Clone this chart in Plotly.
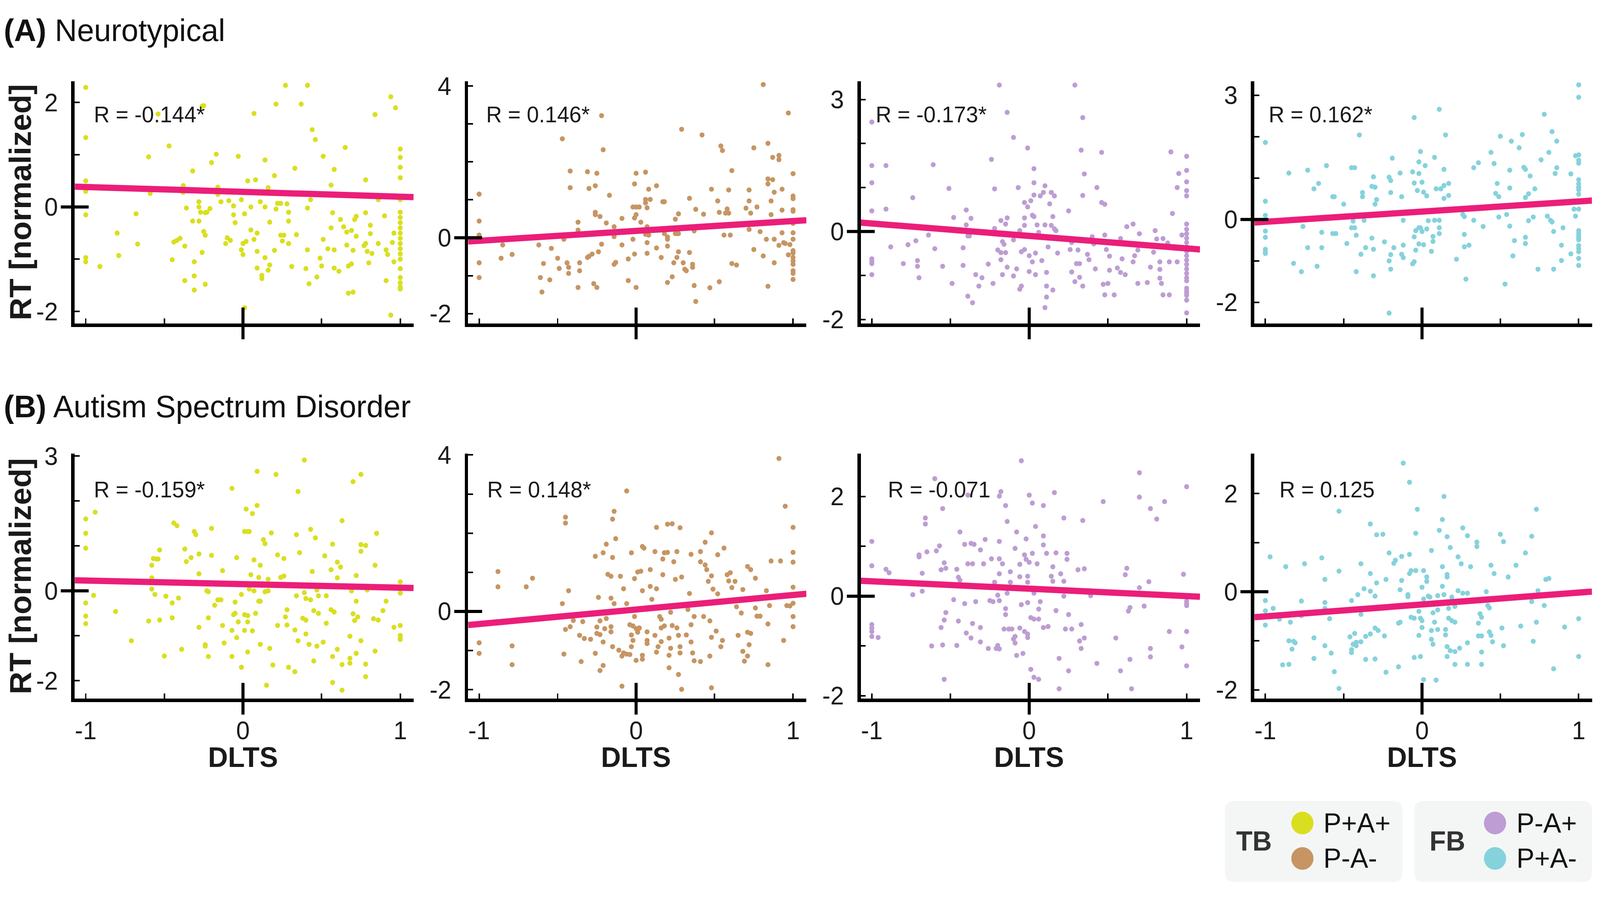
import plotly.graph_objects as go

# condition order in each row: TB P+A+, TB P-A-, FB P-A+, FB P+A-
conditions = ["P+A+", "P-A-", "P-A+", "P+A-"]
cond_colors = ["#d9df1f", "#c69563", "#bd9dd3", "#85d2dc"]
fit_color = "#eb1e79"
groups = ["Neurotypical", "Autism Spectrum Disorder"]

r_labels = ["R = -0.144*", "R = 0.146*", "R = -0.173*", "R = 0.162*",
            "R = -0.159*", "R = 0.148*", "R = -0.071", "R = 0.125"]
fit_slope = [-0.093, 0.26, -0.283, 0.246, -0.079, 0.371, -0.149, 0.242]
fit_intercept = [0.29, 0.18, -0.10, 0.19, 0.15, 0.05, 0.15, -0.26]

# (DLTS, RT) pairs
nt_ppap = [(-1.0, 2.29), (-1.0, 1.33), (-1.0, 0.50), (-1.0, 0.38), (-1.0, 0.30), (-1.0, -0.15), (-1.0, -0.97), (-1.0, -1.05),
    (-0.91, -1.14), (-0.80, -0.50), (-0.79, -0.93), (-0.68, -0.13), (-0.67, -0.71), (-0.60, 0.96), (-0.59, 0.26), (-0.54, 1.78),
    (-0.47, 1.17), (-0.45, -1.01), (-0.44, -0.67), (-0.42, -0.64), (-0.40, -0.60), (-0.38, 0.41), (-0.38, 0.28), (-0.37, -0.75),
    (-0.37, -1.41), (-0.36, -0.02), (-0.32, 0.69), (-0.32, -0.27), (-0.28, -0.27), (-0.31, -1.59), (-0.31, -1.05), (-0.31, -1.32),
    (-0.28, 0.10), (-0.28, 0.0), (-0.27, -0.10), (-0.26, 1.93), (-0.25, 1.94), (-0.26, -0.87), (-0.25, -0.47), (-0.24, -0.54),
    (-0.24, -0.11), (-0.23, -0.10), (-0.21, -0.03), (-0.24, -1.48), (-0.20, 0.85), (-0.17, 1.01), (-0.16, 0.38), (-0.16, 0.24),
    (-0.14, 0.10), (-0.11, -0.70), (-0.10, -0.59), (-0.09, 0.12), (-0.08, -0.64), (-0.06, 0.02), (-0.06, -0.15), (-0.05, -0.30),
    (-0.03, 0.97), (-0.01, 0.14), (0.0, -0.70), (-0.01, -0.82), (0.0, -0.91), (0.01, -1.93), (0.01, -0.13), (0.02, -0.66),
    (0.03, 0.50), (0.05, -0.44), (0.05, 0.0), (0.07, 1.79), (0.07, -0.62), (0.08, 0.52), (0.09, -0.85), (0.09, -0.50),
    (0.09, -1.17), (0.11, 0.10), (0.12, -1.37), (0.12, -1.31), (0.14, 0.90), (0.14, 0.0), (0.14, -0.97), (0.16, -1.21),
    (0.16, 0.37), (0.17, -1.11), (0.17, -0.29), (0.20, 0.60), (0.20, -0.83), (0.21, -0.04), (0.21, 1.97), (0.22, 0.07),
    (0.24, 0.07), (0.24, -0.54), (0.25, -0.65), (0.26, -0.54), (0.27, 2.33), (0.28, 0.06), (0.29, -0.10), (0.29, -0.27),
    (0.29, -0.70), (0.33, 0.74), (0.31, -1.14), (0.34, -0.53), (0.37, 1.97), (0.41, 2.33), (0.40, -1.18), (0.41, -0.02),
    (0.41, -0.82), (0.42, -1.47), (0.43, 0.14), (0.44, 1.48), (0.46, 1.29), (0.47, -1.34), (0.49, -0.98), (0.50, -1.13),
    (0.51, 0.97), (0.51, -0.62), (0.54, -0.80), (0.56, 0.42), (0.56, -0.40), (0.57, -0.11), (0.58, -0.82), (0.58, 0.72),
    (0.58, -1.17), (0.61, -1.23), (0.62, -0.24), (0.64, -0.38), (0.65, 1.14), (0.66, -0.48), (0.66, -0.73), (0.67, -1.13),
    (0.67, -1.65), (0.69, -1.09), (0.69, -0.45), (0.70, -1.63), (0.70, -0.83), (0.71, -0.24), (0.72, -0.56), (0.72, -0.18),
    (0.77, -0.74), (0.78, -0.11), (0.78, -0.70), (0.78, 0.52), (0.79, -0.85), (0.80, -1.07), (0.81, -0.35), (0.81, -0.51),
    (0.82, -0.89), (0.84, 1.77), (0.86, -0.70), (0.86, 0.14), (0.90, -0.17), (0.91, -1.41), (0.91, -0.82), (0.92, -0.91),
    (0.94, 2.11), (0.94, -2.07), (0.95, -0.68), (0.96, -0.50), (0.96, -1.05), (0.97, 1.90),
    (1.0, 1.11), (1.0, 0.95), (1.0, 0.76), (1.0, 0.56), (1.0, 0.14), (1.0, -0.10), (1.0, -0.20), (1.0, -0.30), (1.0, -0.40),
    (1.0, -0.50), (1.0, -0.60), (1.0, -0.70), (1.0, -0.80), (1.0, -0.90), (1.0, -1.00), (1.0, -1.18), (1.0, -1.35),
    (1.0, -1.45), (1.0, -1.53), (1.0, -1.57)]

nt_pmam = [(-1.0, 1.15), (-1.0, 0.44), (-1.0, 0.07), (-1.0, -0.66), (-1.0, -1.05), (-0.85, -0.19), (-0.86, -0.54), (-0.79, -0.44),
    (-0.62, -0.19), (-0.59, -0.68), (-0.61, -1.05), (-0.60, -1.43), (-0.55, -1.11), (-0.54, -0.28), (-0.50, -0.54), (-0.49, -0.81),
    (-0.47, 2.61), (-0.46, -0.04), (-0.44, -0.66), (-0.43, -0.78), (-0.43, -0.94), (-0.42, 1.76), (-0.42, 1.32), (-0.37, 0.41),
    (-0.37, 0.20), (-0.36, -0.66), (-0.36, -0.87), (-0.37, -1.31), (-0.31, 1.74), (-0.30, 1.30), (-0.26, 1.37), (-0.25, 1.70),
    (-0.22, 3.22), (-0.21, 2.32), (-0.26, 0.67), (-0.26, 0.61), (-0.23, 0.56), (-0.19, 0.39), (-0.14, 0.29), (-0.14, 0.03),
    (-0.22, -0.17), (-0.24, -0.37), (-0.28, -0.43), (-0.30, -0.49), (-0.31, -0.52), (-0.27, -1.21), (-0.25, -1.31), (-0.17, 1.12),
    (-0.09, 0.51), (-0.09, -0.19), (-0.14, -0.70), (-0.13, -0.65), (-0.05, -0.56), (-0.05, -1.13), (0.0, -1.31), (-0.02, -0.04),
    (-0.01, -0.43), (-0.01, 1.42), (0.0, 1.70), (0.06, 1.73), (0.08, 1.28), (-0.01, 0.52), (0.0, 0.61), (-0.02, 0.81),
    (0.0, 0.81), (0.02, 0.81), (0.07, 0.79), (0.06, 0.92), (0.06, 1.01), (0.09, 1.01), (0.03, 0.41), (0.07, 0.29),
    (0.06, 0.09), (0.08, 0.07), (0.07, -0.13), (0.07, -0.41), (0.13, 1.37), (0.17, 0.95), (0.18, 0.95), (0.13, -0.27),
    (0.16, -0.52), (0.18, 0.11), (0.20, 0.02), (0.20, -0.04), (0.20, -0.22), (0.25, 0.49), (0.27, 0.63), (0.25, 0.11),
    (0.26, 0.11), (0.27, 0.11), (0.27, -0.37), (0.26, -0.52), (0.24, -0.66), (0.23, -1.03), (0.20, -1.18), (0.29, 2.86),
    (0.30, -0.66), (0.31, -0.83), (0.32, -0.87), (0.34, 1.04), (0.34, -0.39), (0.36, -0.70), (0.36, -0.78), (0.37, 0.18),
    (0.38, 0.75), (0.42, 2.71), (0.43, 0.62), (0.37, -1.26), (0.38, -1.68), (0.47, -1.32), (0.48, 1.28), (0.52, 0.97),
    (0.53, 0.67), (0.53, -1.16), (0.54, 2.42), (0.55, 2.30), (0.56, 0.07), (0.59, 1.26), (0.59, 0.65), (0.57, 0.65),
    (0.58, 0.76), (0.60, 0.07), (0.61, 1.77), (0.61, -0.68), (0.64, -0.72), (0.70, 0.78), (0.72, 1.26), (0.72, 0.97),
    (0.73, 0.65), (0.72, 0.22), (0.75, 2.37), (0.75, -0.31), (0.77, 0.81), (0.79, 0.16), (0.81, -0.48), (0.81, 4.04),
    (0.83, -0.04), (0.84, 1.55), (0.84, 1.42), (0.84, 2.49), (0.84, -1.28), (0.86, 0.61), (0.87, 1.53), (0.86, 0.97),
    (0.87, 2.12), (0.88, 1.20), (0.88, -0.04), (0.88, -0.66), (0.91, 2.17), (0.91, 2.06), (0.91, -0.20), (0.93, 0.73),
    (0.93, 1.28), (0.93, 0.13), (0.94, -0.13), (0.95, -0.15), (0.97, -0.45), (0.97, 3.29), (0.98, -0.18),
    (1.0, 1.69), (1.0, 1.10), (1.0, 1.03), (1.0, 0.74), (1.0, 0.70), (1.0, 0.38), (1.0, 0.13), (1.0, -0.04), (1.0, -0.34),
    (1.0, -0.40), (1.0, -0.52), (1.0, -0.61), (1.0, -0.70), (1.0, -0.87), (1.0, -0.94), (1.0, -1.10)]

nt_pmap = [(-1.0, 2.49), (-1.0, 1.50), (-1.0, 1.11), (-1.0, 0.47), (-1.0, -0.62), (-1.0, -0.68), (-1.0, -0.73), (-1.0, -0.98),
    (-0.91, 1.50), (-0.91, 0.51), (-0.88, -0.35), (-0.80, -0.73), (-0.77, -0.30), (-0.74, 0.77), (-0.72, -0.21), (-0.71, -0.66),
    (-0.71, -0.79), (-0.70, -1.05), (-0.64, -0.08), (-0.61, 1.52), (-0.60, -0.39), (-0.55, -0.79), (-0.51, 0.98), (-0.49, -1.18),
    (-0.48, 0.32), (-0.42, -0.37), (-0.42, -0.77), (-0.40, 0.49), (-0.40, 0.15), (-0.39, -0.10), (-0.38, -0.10), (-0.37, 0.30),
    (-0.39, -1.47), (-0.36, -1.62), (-0.34, -0.98), (-0.30, -1.05), (-0.32, -1.24), (-0.26, -0.74), (-0.24, 1.64), (-0.23, -1.18),
    (-0.22, 0.97), (-0.22, 0.07), (-0.19, 3.33), (-0.20, -0.42), (-0.18, -0.48), (-0.18, 0.25), (-0.17, -0.23), (-0.16, -0.29),
    (-0.15, 0.17), (-0.14, 0.31), (-0.15, -0.48), (-0.18, -0.64), (-0.17, -0.98), (-0.14, 2.71), (-0.14, -0.81), (-0.10, 2.14),
    (-0.10, -0.19), (-0.10, -1.01), (-0.08, -0.85), (-0.07, 1.00), (-0.06, 0.02), (-0.06, -1.31), (-0.05, -1.24), (-0.05, -0.46),
    (-0.03, -0.41), (-0.03, 0.66), (-0.01, 1.90), (-0.01, 0.56), (0.0, -0.55), (0.0, -0.91), (0.01, 0.70), (-0.03, 0.31),
    (-0.03, 0.14), (0.02, -0.69), (0.02, 0.37), (0.03, 0.34), (0.03, 1.11), (0.03, 1.43), (0.03, 0.83), (0.04, -0.98),
    (0.04, -0.49), (0.05, 0.15), (0.07, 0.81), (0.06, -0.02), (0.08, -0.66), (0.09, 0.89), (0.10, 1.04), (0.10, -1.73),
    (0.11, -0.93), (0.11, -1.24), (0.11, -1.49), (0.10, 0.15), (0.12, -0.35), (0.13, 0.63), (0.14, 0.89), (0.15, 0.34),
    (0.14, 0.14), (0.15, -1.33), (0.16, 0.06), (0.16, 0.81), (0.17, 0.02), (0.18, -0.49), (0.25, 0.47), (0.26, -0.41),
    (0.27, -0.25), (0.27, -0.92), (0.29, -1.14), (0.29, 3.33), (0.30, -0.73), (0.31, -0.42), (0.32, -1.04), (0.32, -0.73),
    (0.33, 1.85), (0.34, 0.82), (0.34, -1.24), (0.34, 2.59), (0.35, 1.31), (0.37, -0.52), (0.38, -0.64), (0.40, -0.12),
    (0.41, -0.28), (0.42, -0.85), (0.43, 1.00), (0.46, 1.80), (0.46, 0.66), (0.48, 0.62), (0.48, -0.08), (0.47, -1.20),
    (0.50, -1.18), (0.48, -1.44), (0.54, -1.44), (0.49, -0.41), (0.51, -0.56), (0.51, -0.88), (0.56, -0.83), (0.58, -0.16),
    (0.58, -0.93), (0.59, -0.62), (0.61, -0.98), (0.62, 0.11), (0.66, 0.17), (0.66, -0.69), (0.67, -0.55), (0.69, -0.42),
    (0.69, -1.18), (0.70, -0.05), (0.75, -1.16), (0.77, -0.81), (0.79, -0.47), (0.80, 0.02), (0.81, -0.17), (0.83, -1.06),
    (0.83, -0.69), (0.83, -0.86), (0.84, -1.18), (0.85, -0.16), (0.85, -1.44), (0.88, -0.26), (0.89, -1.44), (0.89, -0.69),
    (0.90, 1.81), (0.91, 0.41), (0.94, 1.00), (0.94, -0.69), (0.95, 1.32), (0.97, -0.08),
    (1.0, 1.71), (1.0, 1.39), (1.0, 1.13), (1.0, 0.93), (1.0, 0.81), (1.0, 0.17), (1.0, 0.05), (1.0, -0.05), (1.0, -0.15),
    (1.0, -0.25), (1.0, -0.35), (1.0, -0.45), (1.0, -0.55), (1.0, -0.65), (1.0, -0.75), (1.0, -0.85), (1.0, -0.95),
    (1.0, -1.05), (1.0, -1.12), (1.0, -1.29), (1.0, -1.35), (1.0, -1.40), (1.0, -1.45), (1.0, -1.56), (1.0, -1.85)]

nt_ppam = [(-1.0, 1.86), (-1.0, 0.44), (-1.0, 0.10), (-1.0, -0.28), (-1.0, -0.43), (-1.0, -0.72), (-1.0, -0.78), (-1.0, -0.82),
    (-0.85, 1.12), (-0.82, -1.06), (-0.77, -1.26), (-0.76, -0.17), (-0.73, 1.19), (-0.73, -0.68), (-0.69, 0.74), (-0.67, -1.13),
    (-0.66, 0.87), (-0.64, -0.68), (-0.64, -0.31), (-0.61, 1.30), (-0.57, 0.55), (-0.56, 0.55), (-0.57, -0.34), (-0.55, -0.34),
    (-0.50, 0.37), (-0.48, -0.58), (-0.45, 1.25), (-0.43, 1.25), (-0.45, -0.20), (-0.43, -0.20), (-0.44, -0.04), (-0.42, -0.38),
    (-0.42, -1.26), (-0.40, 2.04), (-0.39, -0.84), (-0.38, 0.65), (-0.38, 0.55), (-0.37, -0.02), (-0.36, -0.68), (-0.32, 0.80),
    (-0.30, 0.78), (-0.31, 1.03), (-0.32, -0.45), (-0.31, -0.72), (-0.31, -1.36), (-0.30, 0.37), (-0.29, 0.48), (-0.24, -0.54),
    (-0.21, 1.02), (-0.20, 0.94), (-0.20, 0.65), (-0.19, 1.48), (-0.21, -1.00), (-0.20, -0.85), (-0.20, -1.20), (-0.21, -2.26),
    (-0.18, -0.68), (-0.14, 1.12), (-0.13, 0.55), (-0.12, -0.02), (-0.12, -0.62), (-0.13, -0.84), (-0.12, -0.92), (-0.06, -1.07),
    (-0.05, -1.02), (-0.06, 1.15), (-0.05, 0.88), (-0.05, -0.42), (-0.04, -0.27), (-0.04, -0.74), (-0.03, 0.70), (-0.02, 1.39),
    (-0.02, 1.11), (-0.01, 1.64), (0.0, 0.90), (-0.02, -0.20), (-0.01, -0.20), (0.01, 0.66), (0.02, 1.30), (-0.02, -0.59),
    (0.01, -0.61), (0.0, -0.29), (0.03, -0.23), (0.03, 0.57), (0.04, -0.03), (-0.05, 2.46), (0.06, -0.77), (0.07, -0.53),
    (0.07, -0.41), (0.08, 1.50), (0.09, 0.74), (0.08, -0.02), (0.11, -0.02), (0.11, 2.66), (0.11, -0.20), (0.11, -0.34),
    (0.12, 0.74), (0.14, 1.21), (0.14, 0.51), (0.14, 0.82), (0.15, 2.04), (0.17, 0.87), (0.17, 0.58), (0.22, -0.96),
    (0.26, 0.12), (0.27, 0.07), (0.27, -0.36), (0.27, -0.66), (0.30, -0.62), (0.28, -1.44), (0.33, -0.02), (0.33, 1.25),
    (0.36, 1.37), (0.39, -0.17), (0.44, 1.62), (0.46, 1.35), (0.48, 0.87), (0.47, 0.63), (0.49, 0.55), (0.49, 0.06),
    (0.50, 2.01), (0.53, -1.56), (0.54, 0.12), (0.56, 1.19), (0.56, 0.76), (0.56, -0.16), (0.57, 1.89), (0.58, -0.88),
    (0.59, -0.51), (0.62, 1.73), (0.64, 2.05), (0.65, 1.26), (0.66, 1.21), (0.69, 1.05), (0.66, 0.53), (0.68, 0.62),
    (0.66, -0.43), (0.66, -0.58), (0.68, -0.03), (0.71, 0.06), (0.72, 0.74), (0.74, -1.20), (0.76, 1.44), (0.78, 2.54),
    (0.80, 0.08), (0.81, 1.62), (0.82, -0.02), (0.83, -0.06), (0.83, 2.12), (0.84, -0.29), (0.84, -1.20), (0.85, 1.11),
    (0.86, 1.89), (0.86, 1.25), (0.89, -0.62), (0.89, -0.99), (0.90, -0.20), (0.95, -0.83), (0.95, 1.10), (0.97, 0.25),
    (0.98, 0.08), (0.98, 1.54),
    (1.0, 3.25), (1.0, 2.95), (1.0, 1.56), (1.0, 1.43), (1.0, 1.36), (1.0, 0.96), (1.0, 0.86), (1.0, 0.78), (1.0, 0.72),
    (1.0, 0.61), (1.0, 0.25), (1.0, -0.27), (1.0, -0.33), (1.0, -0.39), (1.0, -0.45), (1.0, -0.49), (1.0, -0.63),
    (1.0, -0.70), (1.0, -0.78), (1.0, -0.94), (1.0, -1.11)]

asd_ppap = [(-1.0, 1.60), (-1.0, 1.28), (-1.0, 0.95), (-1.0, -0.27), (-1.0, -0.56), (-1.0, -0.73), (-0.94, 1.75), (-0.95, -0.10),
    (-0.81, -0.46), (-0.71, -1.11), (-0.60, -0.67), (-0.58, 0.57), (-0.58, 0.29), (-0.58, 0.04), (-0.57, 0.72), (-0.55, 0.71),
    (-0.54, 0.71), (-0.56, -0.08), (-0.53, 0.91), (-0.53, -0.65), (-0.50, -1.45), (-0.49, -0.12), (-0.45, -0.27), (-0.45, -0.60),
    (-0.44, 1.51), (-0.42, 1.45), (-0.41, -0.16), (-0.39, -1.30), (-0.37, 0.93), (-0.36, 0.65), (-0.33, 0.74), (-0.31, 1.32),
    (-0.30, 1.25), (-0.28, 0.82), (-0.28, 0.38), (-0.28, -0.81), (-0.24, -1.23), (-0.24, -1.20), (-0.23, 0.0), (-0.22, -0.02),
    (-0.22, -0.60), (-0.22, -1.46), (-0.20, 1.39), (-0.20, 0.79), (-0.18, -0.32), (-0.16, -0.20), (-0.14, -0.20), (-0.13, 0.45),
    (-0.13, -0.77), (-0.12, -1.16), (-0.07, 2.28), (-0.07, -1.46), (-0.07, -0.88), (-0.06, -0.53), (-0.05, -0.25), (-0.04, 0.74),
    (-0.04, -1.04), (-0.05, -0.50), (-0.03, -0.69), (-0.01, -0.08), (-0.01, -1.70), (0.01, 1.32), (0.03, 1.32), (0.04, 1.32),
    (0.01, -0.53), (0.01, -0.88), (0.02, 1.82), (0.03, -0.55), (0.03, -0.69), (0.03, -1.36), (0.04, 0.04), (0.05, 0.36),
    (0.06, 1.72), (0.06, -0.89), (0.07, 0.69), (0.07, 0.0), (0.08, -0.50), (0.09, 1.90), (0.09, 2.66), (0.10, 0.30),
    (0.10, -0.23), (0.11, -0.23), (0.11, 0.57), (0.11, -1.19), (0.13, 1.14), (0.14, 1.05), (0.14, -0.02), (0.15, -2.10),
    (0.16, 0.26), (0.16, 0.0), (0.17, -1.28), (0.18, 1.29), (0.19, -1.65), (0.21, 2.59), (0.22, -0.77), (0.22, 0.80),
    (0.24, 0.30), (0.26, 0.72), (0.26, 0.33), (0.27, -0.58), (0.28, -0.76), (0.28, -0.42), (0.29, -1.70), (0.33, -1.80),
    (0.33, -0.87), (0.34, 1.25), (0.34, -0.11), (0.35, -1.11), (0.35, 2.21), (0.36, 0.85), (0.38, -0.61), (0.39, 2.91),
    (0.39, -0.04), (0.40, -0.65), (0.40, -0.17), (0.40, -0.96), (0.42, -1.19), (0.43, 1.37), (0.43, -0.20), (0.44, 0.43),
    (0.45, -0.44), (0.45, -1.56), (0.46, 1.18), (0.47, -1.23), (0.47, 0.02), (0.48, -0.50), (0.48, -0.11), (0.51, -1.14),
    (0.52, 0.78), (0.53, -0.11), (0.53, -0.72), (0.56, -0.42), (0.57, 1.04), (0.57, -2.04), (0.57, -1.46), (0.58, -0.47),
    (0.56, 0.47), (0.60, 0.64), (0.60, 0.29), (0.60, -1.30), (0.62, 0.53), (0.63, -2.21), (0.63, 1.56), (0.63, -1.64),
    (0.68, -1.61), (0.68, -1.50), (0.68, -1.01), (0.69, 0.0), (0.70, 2.43), (0.70, -0.51), (0.71, -0.66), (0.72, -0.23),
    (0.72, 0.34), (0.72, -1.39), (0.73, -0.58), (0.75, 2.59), (0.75, 1.03), (0.75, 0.88), (0.75, -1.11), (0.78, 1.01),
    (0.78, -1.63), (0.78, -1.91), (0.79, 0.02), (0.83, -0.62), (0.84, -1.34), (0.84, 0.57), (0.85, 1.28), (0.86, -0.65),
    (0.89, -0.44), (0.91, -0.23), (0.96, -0.81),
    (1.0, 0.20), (1.0, 0.04), (1.0, -0.05), (1.0, -0.77), (1.0, -0.99), (1.0, -1.05), (1.0, -1.08)]

asd_pmam = [(-1.0, -0.80), (-1.0, -1.07), (-0.88, 1.02), (-0.88, 0.63), (-0.79, -0.88), (-0.79, -1.36), (-0.70, 0.63), (-0.66, 0.85),
    (-0.47, 0.20), (-0.46, -1.09), (-0.45, 2.41), (-0.45, 2.26), (-0.45, -0.46), (-0.43, 0.53), (-0.42, -0.39), (-0.40, -0.23),
    (-0.36, -0.61), (-0.35, -1.28), (-0.34, -0.26), (-0.33, -0.69), (-0.29, -0.71), (-0.26, -1.07), (-0.26, 1.41), (-0.25, -0.40),
    (-0.25, -0.56), (-0.24, 0.36), (-0.23, -0.24), (-0.23, -0.59), (-0.23, -1.51), (-0.21, 1.50), (-0.21, -1.38), (-0.21, -0.78),
    (-0.20, -0.44), (-0.19, -0.18), (-0.19, 1.72), (-0.18, 0.95), (-0.16, 0.90), (-0.16, 0.34), (-0.16, -0.39), (-0.16, -0.52),
    (-0.15, 2.36), (-0.15, 1.38), (-0.15, -0.90), (-0.14, 2.56), (-0.14, 0.20), (-0.13, 1.86), (-0.11, -0.99), (-0.10, 0.90),
    (-0.09, -1.14), (-0.09, -1.91), (-0.08, -1.06), (-0.08, 0.58), (-0.06, 0.20), (-0.06, -1.09), (-0.06, 3.08), (-0.04, -1.10),
    (-0.04, -0.34), (-0.03, -0.90), (-0.03, -0.60), (-0.03, 1.50), (-0.02, -0.37), (-0.02, -0.74), (-0.01, 0.84), (-0.01, -0.13),
    (0.0, -1.25), (0.0, -0.44), (0.01, -0.53), (0.02, -0.42), (0.02, -0.43), (0.01, 1.01), (0.03, 1.03), (0.04, -1.22),
    (0.04, -1.12), (0.04, 0.53), (0.04, 1.66), (0.05, 1.62), (0.07, -0.52), (0.07, -0.74), (0.07, -0.82), (0.09, 1.07),
    (0.09, 0.64), (0.10, 0.31), (0.12, 1.53), (0.12, -0.61), (0.13, -1.04), (0.13, 0.58), (0.13, 2.15), (0.14, -0.90),
    (0.15, -0.13), (0.16, -0.42), (0.16, -0.20), (0.16, -0.77), (0.17, 1.34), (0.17, 0.94), (0.18, -0.37), (0.18, 1.50),
    (0.20, 2.23), (0.20, 1.51), (0.21, -1.12), (0.21, -0.68), (0.21, -1.44), (0.22, -0.94), (0.22, -0.02), (0.23, 2.24),
    (0.23, -0.36), (0.24, 1.27), (0.25, 0.82), (0.26, -0.42), (0.26, 1.53), (0.27, -0.61), (0.27, -1.61), (0.28, 2.14),
    (0.28, -0.90), (0.28, -1.06), (0.29, -1.99), (0.29, 0.88), (0.32, -0.60), (0.33, 0.05), (0.34, 0.46), (0.35, 1.46),
    (0.35, -0.34), (0.35, -0.78), (0.36, -1.06), (0.37, -0.13), (0.37, -1.26), (0.41, -1.28), (0.41, 1.53), (0.41, 1.27),
    (0.43, -0.13), (0.44, 1.19), (0.45, 1.07), (0.46, 0.77), (0.47, -0.24), (0.48, 0.91), (0.48, 2.01), (0.48, -0.66),
    (0.48, -1.95), (0.47, -1.14), (0.44, 1.77), (0.49, 0.57), (0.51, -0.50), (0.52, 0.45), (0.52, 1.45), (0.54, -0.90),
    (0.55, -0.74), (0.56, 1.62), (0.58, 0.94), (0.59, 0.78), (0.60, 0.99), (0.61, 0.61), (0.63, 0.77), (0.64, 0.12),
    (0.65, -0.61), (0.67, -0.04), (0.68, 0.56), (0.68, -1.02), (0.69, -1.27), (0.71, -1.14), (0.71, -0.53), (0.72, -0.85),
    (0.73, -0.56), (0.71, 1.15), (0.73, 1.07), (0.76, 0.09), (0.76, 0.85), (0.77, -0.12), (0.79, -0.12), (0.83, 0.53),
    (0.84, -0.32), (0.84, -1.36), (0.85, 0.15), (0.86, 1.29), (0.91, 3.91), (0.92, 1.29), (0.94, -0.74), (0.95, 2.69),
    (0.96, 0.15), (0.98, 0.14),
    (1.0, 2.15), (1.0, 1.51), (1.0, 1.26), (1.0, 0.62), (1.0, 0.21), (1.0, -0.13), (1.0, -0.39)]

asd_pmap = [(-1.0, 1.10), (-1.0, 0.61), (-1.0, -0.57), (-1.0, -0.64), (-1.0, -0.71), (-1.0, -0.81), (-0.96, -0.83), (-0.91, 0.54),
    (-0.89, 0.47), (-0.74, 0.03), (-0.70, 0.83), (-0.70, 0.79), (-0.68, 0.46), (-0.68, 0.10), (-0.66, 1.57), (-0.66, 1.45),
    (-0.65, 0.89), (-0.62, -1.0), (-0.60, 2.36), (-0.59, 0.91), (-0.57, 1.01), (-0.56, 0.53), (-0.55, 1.76), (-0.56, -0.63),
    (-0.55, -0.98), (-0.54, -1.67), (-0.54, 0.67), (-0.53, 0.56), (-0.53, -0.33), (-0.54, -0.48), (-0.48, -0.07), (-0.46, -0.99),
    (-0.46, 0.54), (-0.45, 0.38), (-0.45, -0.50), (-0.44, 0.32), (-0.44, 1.29), (-0.41, -0.15), (-0.41, 1.04), (-0.39, 2.03),
    (-0.40, -0.74), (-0.39, 0.65), (-0.37, -0.84), (-0.37, 1.06), (-0.35, 1.04), (-0.36, 0.65), (-0.36, -0.55), (-0.34, -0.11),
    (-0.31, -0.92), (-0.31, 0.93), (-0.31, -0.63), (-0.29, 0.65), (-0.28, 1.14), (-0.26, -1.05), (-0.25, -0.09), (-0.24, 0.75),
    (-0.23, -0.11), (-0.22, 0.28), (-0.21, -1.05), (-0.20, 0.02), (-0.20, -0.99), (-0.19, -1.06), (-0.19, 1.10), (-0.19, 0.45),
    (-0.19, -0.09), (-0.19, 0.75), (-0.18, 2.10), (-0.19, 2.01), (-0.17, 0.65), (-0.15, 1.82), (-0.15, -0.25), (-0.15, -0.37),
    (-0.14, 1.50), (-0.14, 0.06), (-0.12, 0.49), (-0.12, 0.28), (-0.16, -0.66), (-0.13, -0.66), (-0.11, -0.66), (-0.10, -0.86),
    (-0.09, -0.94), (-0.09, -0.81), (-0.08, 1.29), (-0.09, 0.96), (-0.08, -1.19), (-0.06, -0.64), (-0.06, 0.64), (-0.06, 0.39),
    (-0.05, -0.17), (-0.05, 2.72), (-0.04, -1.15), (-0.03, -0.71), (-0.03, 0.83), (-0.02, 0.74), (-0.02, 1.15), (-0.01, -0.76),
    (-0.01, -0.83), (-0.01, 0.40), (-0.01, 0.28), (-0.01, -0.13), (0.0, 0.68), (0.0, 2.03), (0.01, -1.47), (0.01, -0.43),
    (0.02, 1.87), (0.02, 0.86), (0.03, 0.06), (0.03, -1.63), (0.04, 1.40), (0.03, -0.46), (0.06, -0.46), (0.05, 0.65),
    (0.06, -0.26), (0.06, -1.67), (0.07, -0.11), (0.09, 1.82), (0.09, 1.21), (0.09, 1.03), (0.09, -0.63), (0.11, 0.86),
    (0.12, -0.61), (0.14, 0.40), (0.15, 0.59), (0.15, 0.30), (0.16, 2.08), (0.17, 0.87), (0.17, -0.29), (0.19, -1.25),
    (0.19, -1.86), (0.20, 0.45), (0.22, 1.57), (0.22, 0.30), (0.22, 0.0), (0.23, -0.66), (0.24, 0.86), (0.24, 0.74),
    (0.25, -0.37), (0.25, -1.50), (0.27, -0.66), (0.31, 0.53), (0.33, -1.05), (0.32, -0.90), (0.33, -0.57), (0.34, 1.52),
    (0.35, 0.55), (0.35, -0.84), (0.39, 0.01), (0.43, -1.35), (0.47, 1.90), (0.55, -0.84), (0.58, -1.50), (0.61, 0.43),
    (0.62, 0.56), (0.63, -0.30), (0.64, -0.23), (0.64, -1.27), (0.65, -1.86), (0.70, 2.48), (0.70, 1.99), (0.70, 0.17),
    (0.73, -0.20), (0.76, 0.29), (0.77, -1.22), (0.77, -1.05), (0.77, 1.76), (0.81, 1.55), (0.86, 1.90), (0.89, -0.71),
    (0.97, -1.02), (0.98, 0.44),
    (1.0, 2.20), (1.0, -0.10), (1.0, -0.15), (1.0, -0.19), (1.0, -0.71), (1.0, -1.40)]

asd_ppam = [(-1.0, -0.18), (-1.0, -0.39), (-1.0, -0.68), (-0.97, 0.71), (-0.95, -0.34), (-0.91, -0.56), (-0.89, -1.49), (-0.87, 0.51),
    (-0.85, -1.48), (-0.85, -1.00), (-0.84, -0.62), (-0.82, -1.01), (-0.81, -1.04), (-0.83, -1.17), (-0.77, -0.19), (-0.77, -0.49),
    (-0.75, 0.57), (-0.69, -0.94), (-0.69, -1.36), (-0.64, 0.69), (-0.62, -0.22), (-0.62, -0.34), (-0.62, -1.10), (-0.62, 0.25),
    (-0.59, -0.55), (-0.58, -1.25), (-0.56, -1.63), (-0.53, 1.64), (-0.53, 0.42), (-0.53, -1.97), (-0.46, -0.92), (-0.45, -1.18),
    (-0.45, -0.18), (-0.45, -1.24), (-0.44, -1.07), (-0.43, -0.85), (-0.42, -1.10), (-0.42, -1.03), (-0.41, -0.06), (-0.39, -1.02),
    (-0.39, 0.57), (-0.39, -0.46), (-0.37, 0.06), (-0.36, -0.91), (-0.36, -1.38), (-0.33, 1.38), (-0.33, 0.01), (-0.33, 0.37),
    (-0.33, -0.86), (-0.30, -0.74), (-0.30, -0.09), (-0.30, -1.37), (-0.29, 0.18), (-0.29, 1.16), (-0.28, -0.79), (-0.25, 1.17),
    (-0.24, -0.90), (-0.23, 0.25), (-0.23, -1.64), (-0.21, 0.79), (-0.18, 0.58), (-0.17, 0.64), (-0.13, 0.72), (-0.15, -0.64),
    (-0.14, -0.62), (-0.15, -1.53), (-0.14, 0.04), (-0.13, 0.23), (-0.09, -0.06), (-0.09, -0.10), (-0.08, 0.76), (-0.08, 0.37),
    (-0.08, 2.23), (-0.12, 2.62), (-0.07, 0.43), (-0.07, -0.52), (-0.05, -1.34), (-0.05, -0.54), (-0.04, 1.19), (-0.03, 1.68),
    (-0.04, 0.43), (-0.02, -0.89), (-0.02, -0.40), (-0.01, -0.54), (-0.01, -1.32), (0.0, 0.09), (0.0, -0.59), (0.0, -0.73),
    (0.01, -1.79), (0.01, 0.43), (0.01, -0.15), (0.03, 0.30), (0.03, 0.21), (0.04, -0.09), (0.05, -0.11), (0.06, 0.84),
    (0.06, -0.79), (0.06, -0.97), (0.07, -1.07), (0.07, -0.43), (0.08, -0.62), (0.09, -1.80), (0.10, -0.08), (0.10, -0.37),
    (0.10, -0.77), (0.11, 1.25), (0.13, 1.47), (0.13, 0.51), (0.13, 0.11), (0.14, 1.94), (0.14, -0.06), (0.15, -0.77),
    (0.15, -0.88), (0.16, -1.12), (0.16, -1.32), (0.16, 1.12), (0.16, 0.35), (0.16, 0.30), (0.17, -0.34), (0.17, -0.54),
    (0.18, -1.20), (0.18, 0.90), (0.19, -0.11), (0.19, -0.59), (0.21, -1.22), (0.21, -0.62), (0.21, -0.30), (0.21, -1.48),
    (0.23, 0.71), (0.23, 0.02), (0.24, -1.15), (0.25, 0.57), (0.26, 1.30), (0.26, -0.03), (0.29, -0.03), (0.29, 1.14),
    (0.29, -1.04), (0.29, -1.48), (0.31, 0.51), (0.35, 1.01), (0.35, 0.92), (0.36, -0.64), (0.37, -0.45), (0.38, -0.52),
    (0.38, -1.23), (0.38, -1.48), (0.36, -0.90), (0.38, -0.90), (0.41, 0.0), (0.42, -0.28), (0.43, -0.33), (0.43, -0.82),
    (0.44, -0.89), (0.44, 0.54), (0.45, -1.02), (0.46, 0.37), (0.50, 1.17), (0.51, -0.74), (0.52, 1.02), (0.52, -1.10),
    (0.55, 0.30), (0.60, 0.54), (0.63, -0.70), (0.66, 0.79), (0.70, 1.13), (0.70, -0.20), (0.71, -1.01), (0.73, 1.68),
    (0.73, -0.62), (0.74, 0.02), (0.78, -0.28), (0.79, 0.25), (0.81, 0.27), (0.84, -1.57), (0.91, -0.72),
    (1.0, -0.55), (1.0, -1.32)]

panels = [nt_ppap, nt_pmam, nt_pmap, nt_ppam, asd_ppap, asd_pmam, asd_pmap, asd_ppam]

y_ranges = [(-2.23, 2.41), (-2.26, 4.13), (-2.09, 3.42), (-2.51, 3.34),
            (-2.40, 3.05), (-2.23, 4.03), (-2.06, 2.86), (-2.18, 2.81)]
y_top_tick = [2, 4, 3, 3, 3, 4, 2, 2]
x_range = (-1.07, 1.085)
x_ticks = [-1, -0.5, 0, 0.5, 1]

legend_groups = ["TB", "FB"]
legend_labels = [["P+A+", "P-A-"], ["P-A+", "P+A-"]]

FONT = "Liberation Sans, Arial, sans-serif"
W, H = 4177, 2301

x_doms = [[0.0467, 0.2585], [0.2926, 0.504], [0.538, 0.750], [0.784, 0.995]]
y_doms = [[0.645, 0.922], [0.216, 0.496]]
r_pos_x = [0.054, 0.051, 0.042, 0.040, 0.054, 0.054, 0.078, 0.072]

fig = go.Figure()
layout = {}
annotations = []

for k, pts in enumerate(panels):
    row, col = divmod(k, 4)
    ax = "" if k == 0 else str(k + 1)
    xs = [p[0] for p in pts]
    ys = [p[1] for p in pts]
    color = cond_colors[col]

    fig.add_trace(go.Scatter(x=xs, y=ys, mode="markers", xaxis="x" + ax, yaxis="y" + ax,
                             marker=dict(size=13, color=color, line=dict(width=0)),
                             name=conditions[col], showlegend=False))
    fx = [x_range[0], x_range[1]]
    fy = [fit_intercept[k] + fit_slope[k] * v for v in fx]
    fig.add_trace(go.Scatter(x=fx, y=fy, mode="lines", xaxis="x" + ax, yaxis="y" + ax,
                             line=dict(color=fit_color, width=16), showlegend=False))
    # crossing ticks at zero on both axes
    fig.add_trace(go.Scatter(x=[x_range[0]], y=[0], mode="markers", xaxis="x" + ax, yaxis="y" + ax,
                             marker=dict(symbol="line-ew", size=52, line=dict(width=8, color="black")),
                             cliponaxis=False, showlegend=False))
    fig.add_trace(go.Scatter(x=[0], y=[y_ranges[k][0]], mode="markers", xaxis="x" + ax, yaxis="y" + ax,
                             marker=dict(symbol="line-ns", size=58, line=dict(width=8, color="black")),
                             cliponaxis=False, showlegend=False))

    yv = list(range(-2, y_top_tick[k] + 1))
    yt = [str(v) if v in (-2, 0, y_top_tick[k]) else "" for v in yv]
    xt = ["-1", "", "0", "", "1"]
    common = dict(showline=True, linecolor="black", linewidth=9, mirror=False,
                  ticks="inside", ticklen=13, tickwidth=4, tickcolor="black",
                  showgrid=False, zeroline=False,
                  tickfont=dict(family=FONT, size=64, color="#1a1a1a"))
    layout["xaxis" + ax] = dict(common, domain=x_doms[col], range=list(x_range), anchor="y" + ax,
                                tickmode="array", tickvals=x_ticks, ticktext=xt,
                                showticklabels=(row == 1), ticklabelstandoff=18)
    layout["yaxis" + ax] = dict(common, domain=y_doms[row], range=list(y_ranges[k]), anchor="x" + ax,
                                tickmode="array", tickvals=yv, ticktext=yt, ticklabelstandoff=22)

    annotations.append(dict(text=r_labels[k], xref="x" + ax + " domain", yref="y" + ax + " domain",
                            x=r_pos_x[k], y=0.863 if row == 0 else 0.854, xanchor="left", yanchor="middle",
                            showarrow=False, font=dict(family=FONT, size=57, color="#1a1a1a")))
    if row == 1:
        annotations.append(dict(text="<b>DLTS</b>", xref="x" + ax, yref="paper", x=0, y=0.149,
                                xanchor="center", yanchor="middle", showarrow=False,
                                font=dict(family=FONT, size=72, color="#1a1a1a")))

# group titles and y-axis titles
for row, (tag, name) in enumerate(zip(["(A)", "(B)"], groups)):
    annotations.append(dict(text=f"<b>{tag}</b> {name}", xref="paper", yref="paper",
                            x=0.002, y=[0.980, 0.550][row], xanchor="left", yanchor="middle",
                            showarrow=False, font=dict(family=FONT, size=80, color="#111111")))
    annotations.append(dict(text="<b>RT [normalized]</b>", xref="paper", yref="paper",
                            x=0.0127, y=sum(y_doms[row]) / 2, xanchor="center", yanchor="middle",
                            textangle=-90, showarrow=False,
                            font=dict(family=FONT, size=80, color="#1a1a1a")))

# legend boxes drawn on an overlay axis in paper units
layout["xaxis9"] = dict(domain=[0, 1], range=[0, 1], visible=False, fixedrange=True)
layout["yaxis9"] = dict(domain=[0, 1], range=[0, 1], visible=False, fixedrange=True, anchor="x9")

box_x = [(0.7656, 0.8766), (0.8839, 0.9950)]
box_y = (0.0065, 0.0991)
rx, ry = 0.006, 0.011
shapes = []
for g, (x0, x1) in enumerate(box_x):
    y0, y1 = box_y
    path = (f"M {x0 + rx},{y0} L {x1 - rx},{y0} Q {x1},{y0} {x1},{y0 + ry} "
            f"L {x1},{y1 - ry} Q {x1},{y1} {x1 - rx},{y1} L {x0 + rx},{y1} "
            f"Q {x0},{y1} {x0},{y1 - ry} L {x0},{y0 + ry} Q {x0},{y0} {x0 + rx},{y0} Z")
    shapes.append(dict(type="path", path=path, xref="paper", yref="paper",
                       fillcolor="#f4f6f6", line=dict(width=0), layer="below"))
    cx = [0.8140, 0.9344][g]
    lx = [0.8267, 0.9473][g]
    tx = [0.7838, 0.9047][g]
    fig.add_trace(go.Scatter(x=[cx, cx], y=[0.0739, 0.0334], mode="markers", xaxis="x9", yaxis="y9",
                             marker=dict(size=58, color=cond_colors[2 * g:2 * g + 2]),
                             hoverinfo="skip", showlegend=False))
    annotations.append(dict(text=f"<b>{legend_groups[g]}</b>", xref="paper", yref="paper",
                            x=tx, y=0.053, xanchor="center", yanchor="middle", showarrow=False,
                            font=dict(family=FONT, size=70, color="#333333")))
    for j, lab in enumerate(legend_labels[g]):
        annotations.append(dict(text=lab, xref="paper", yref="paper", x=lx, y=[0.0739, 0.0334][j],
                                xanchor="left", yanchor="middle", showarrow=False,
                                font=dict(family=FONT, size=70, color="#111111")))

fig.update_layout(**layout)
fig.update_layout(width=W, height=H, margin=dict(l=0, r=0, t=0, b=0),
                  paper_bgcolor="white", plot_bgcolor="rgba(0,0,0,0)",
                  showlegend=False, annotations=annotations, shapes=shapes,
                  font=dict(family=FONT))

# stretch the fixed-size figure so it fills the page's viewport exactly
fit_js = ("var gd = document.getElementById('{plot_id}');"
          "document.documentElement.style.margin = '0'; document.body.style.margin = '0';"
          "document.documentElement.style.overflow = 'hidden'; document.body.style.overflow = 'hidden';"
          "var sx = window.innerWidth / " + str(W) + ", sy = window.innerHeight / " + str(H) + ";"
          "gd.style.position = 'absolute'; gd.style.left = '0px'; gd.style.top = '0px';"
          "gd.style.transformOrigin = '0 0'; gd.style.transform = 'scale(' + sx + ',' + sy + ')';")

fig.write_html("out.html", post_script=fit_js, config={"displayModeBar": False})
